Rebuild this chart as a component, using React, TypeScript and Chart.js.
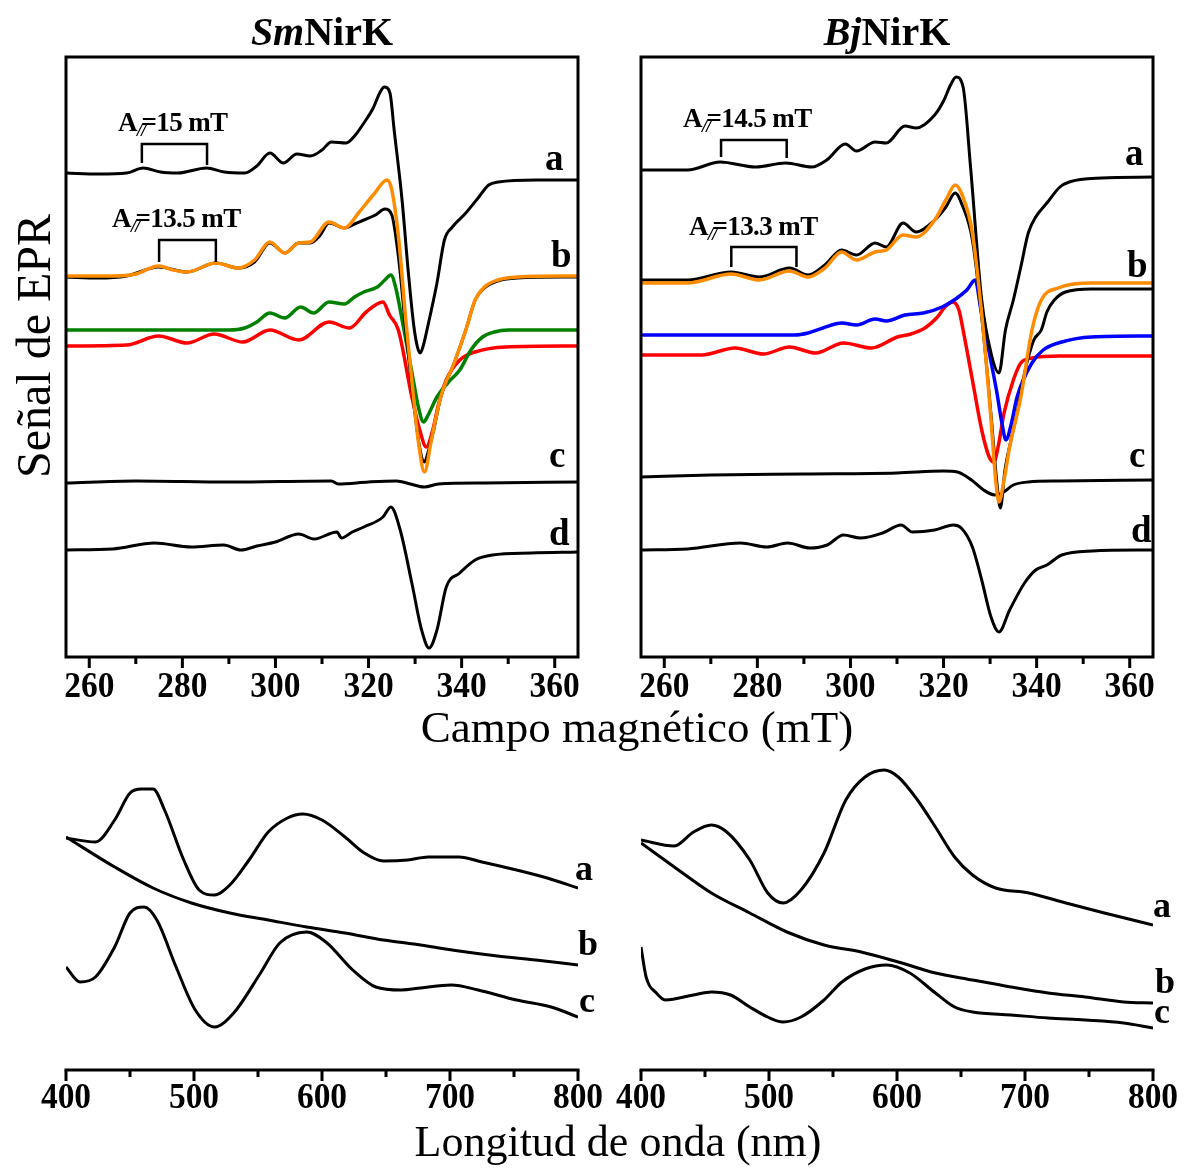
import React, { useEffect, useRef } from "react";
import { Chart, registerables } from "chart.js";

Chart.register(...registerables);

const SERIF = '"Liberation Serif", "Times New Roman", Times, serif';

// ---------- axis ticks ----------
const eprMajorTicks = [260, 280, 300, 320, 340, 360];
const eprMinorTicks = [270, 290, 310, 330, 350];
const uvMajorTicks = [400, 500, 600, 700, 800];
const uvMinorTicks = [450, 550, 650, 750];

// ---------- SmNirK EPR (field in mT, signal in a.u. incl. vertical offset) ----------
const smA_field = [255, 262, 268, 271.6, 275.3, 279, 285.2, 289, 293.4, 296, 298.8, 301.7, 304.6, 307.5, 310, 312, 315.2, 317, 319, 321, 322.5, 323.4, 324.6, 325.5, 327.2, 328.5, 329.7, 330.5, 331.1, 331.8, 332.5, 334.7, 336.3, 338, 340.9, 343.7, 345.8, 347.9, 356, 365];
const smA_signal = [484, 483, 484, 489, 485, 484, 489, 485, 484, 491, 504, 494, 503, 501, 507, 515, 514, 521, 534, 549, 565, 570, 564, 527, 457, 387, 332, 310, 304, 312, 326, 374, 417, 430, 444, 460, 472, 475, 477, 477];

const smB_field = [255, 262, 268, 274.9, 281, 287.2, 292, 295.5, 298.8, 302, 305, 307.5, 309.5, 311.5, 314.8, 317, 319, 321.5, 323.5, 325, 326.5, 328, 329.5, 331, 332, 332.8, 334, 335.5, 338.4, 340.9, 342.9, 344.9, 347.8, 352, 365];
const smB_signal = [380, 379, 381, 390, 385, 394, 389, 395, 414, 404, 414, 414, 421, 434, 429, 433, 437, 442, 448, 442, 397, 327, 262, 209, 195, 205, 227, 260, 294, 327, 357, 369, 376, 379, 380];

const smFit_field = [255, 265, 270, 274.9, 278, 281, 287.2, 292, 295.5, 298.8, 302, 305, 307.5, 311.5, 314.8, 318, 321, 324, 325, 326.5, 328, 329.5, 330.8, 332, 333.5, 335.5, 338.4, 340.9, 342.9, 344.9, 347.8, 352, 365];
const smFit_signal = [381, 381, 383, 391, 387, 385, 394, 389, 397, 415, 404, 414, 415, 435, 429, 445, 462, 477, 467, 417, 337, 267, 212, 185, 217, 260, 294, 327, 357, 370, 377, 380, 381];

const smGreen_field = [255, 290, 293.4, 296, 298.8, 302, 305.4, 308.2, 311.5, 314.8, 317, 319, 321.9, 323.5, 324.8, 325.8, 327.5, 329.3, 330.8, 331.8, 332.8, 334.7, 337, 339.6, 342, 344.5, 347, 350, 365];
const smGreen_signal = [327, 327, 329, 335, 344, 339, 350, 344, 355, 353, 360, 365, 370, 377, 382, 370, 330, 285, 248, 235, 242, 260, 274, 287, 307, 320, 325, 327, 327];

const smRed_field = [255, 268, 274.9, 281, 286.8, 293, 298.8, 305, 311.5, 315.9, 319.5, 323.1, 324.5, 326.4, 329.3, 331, 332.4, 333.8, 335, 336.7, 339.6, 342.9, 349.5, 365];
const smRed_signal = [311, 312, 321, 314, 323, 315, 327, 317, 335, 329, 345, 355, 342, 327, 260, 227, 210, 227, 252, 277, 297, 305, 310, 311];

const smC_field = [255, 270, 290, 312, 313.5, 320, 326, 329, 332, 335, 345, 365];
const smC_signal = [174, 176, 175, 176, 173, 175, 176, 173, 170, 173, 174, 175];

const smD_field = [255, 265, 274, 281.9, 288.9, 292.6, 296, 300, 305, 308.3, 313.2, 314.2, 316.5, 319, 323.1, 324.8, 326.8, 329.3, 331.4, 333, 334.7, 336.7, 339.6, 342.9, 346.6, 355, 365];
const smD_signal = [107, 108, 114, 110, 112, 107, 111, 115, 123, 118, 125, 119, 125, 130, 140, 150, 127, 74, 27, 9, 27, 70, 84, 97, 102, 104, 105];

const smBracketStart = [271.3, 275.0];
const smBracketEnd = [285.3, 287.2];
const smBracketTop = [513, 417];
const smBracketFootL = [494, 395];
const smBracketFootR = [492, 395];

// ---------- BjNirK EPR ----------
const bjA_field = [255, 265, 272, 279.6, 286.1, 291.7, 294.9, 298.9, 301.3, 305.3, 307.7, 311.7, 314.1, 318.1, 320.1, 321.5, 322.7, 324.2, 325.8, 328.2, 330.3, 331.9, 333.3, 335, 336.6, 338.2, 339.8, 342.2, 345, 347, 354, 365];
const bjA_signal = [487, 487, 495, 490, 494, 490, 497, 513, 506, 515, 514, 531, 529, 542, 557, 572, 580, 570, 490, 357, 302, 284, 327, 357, 390, 424, 440, 454, 470, 475, 479, 480];

const bjB_field = [255, 265, 274.4, 280.4, 286.9, 290.9, 294.5, 298.1, 301.3, 305.3, 307.7, 311.3, 314.1, 318.1, 320.5, 322.5, 324, 326.2, 328.6, 330.3, 331.4, 332.2, 333.2, 334.5, 335.8, 337.4, 339.4, 341, 342.2, 343.8, 346.2, 351.8, 365];
const bjB_signal = [377, 377, 385, 380, 389, 382, 392, 407, 402, 414, 410, 434, 425, 437, 450, 464, 452, 417, 322, 237, 177, 149, 187, 217, 244, 284, 317, 327, 345, 357, 365, 368, 368];

const bjFit_field = [255, 265, 274.4, 280.4, 286.9, 290.9, 294.5, 298.1, 301.3, 305.3, 307.7, 311.3, 314.1, 318.1, 320.5, 322.5, 324, 326.2, 328.6, 330.2, 331.2, 331.9, 333, 334.2, 336.6, 339, 341, 344.6, 351.8, 365];
const bjFit_signal = [374, 374, 383, 377, 386, 380, 389, 405, 397, 405, 407, 422, 420, 437, 457, 472, 462, 424, 324, 237, 177, 155, 177, 210, 260, 327, 357, 369, 374, 374];

const bjBlue_field = [255, 288, 290.9, 294.1, 298.1, 301.3, 305.3, 307.7, 311.7, 315.7, 319.7, 322.9, 325, 326.8, 328, 330, 331.4, 332.5, 333.4, 334.5, 335.8, 339, 341.4, 345.4, 351.8, 365];
const bjBlue_signal = [322, 322, 324, 329, 334, 332, 338, 336, 342, 344, 350, 359, 367, 377, 348, 300, 266, 235, 217, 232, 260, 294, 307, 315, 320, 321];

const bjRed_field = [255, 268, 275.2, 281.3, 286.9, 292.5, 298.5, 304.5, 310.1, 313, 316, 318.5, 320.5, 322, 323.3, 324.2, 326.2, 328.2, 329.8, 330.8, 331.8, 333, 335, 336.6, 339, 345, 365];
const bjRed_signal = [302, 302, 309, 303, 310, 304, 314, 309, 320, 323, 329, 339, 351, 355, 347, 327, 277, 227, 200, 195, 212, 244, 277, 294, 299, 301, 301];

const bjC_field = [255, 270, 290, 310, 320, 323, 326, 328.6, 331, 332.6, 335, 338.2, 345, 365];
const bjC_signal = [180, 182, 183, 184, 186, 185, 177, 167, 162, 164, 172, 175, 176, 177];

const bjD_field = [255, 265, 276.4, 282, 286.5, 291.3, 295, 298.5, 302.1, 306.9, 310.9, 313.3, 318.1, 322.1, 323.8, 326.2, 328.2, 330.2, 331.9, 334.2, 337.4, 339.8, 342.2, 345.4, 352, 365];
const bjD_signal = [107, 108, 114, 110, 114, 109, 112, 122, 119, 124, 132, 125, 127, 132, 129, 110, 77, 40, 25, 47, 74, 87, 92, 102, 106, 107];

const bjBracketStart = [272.2, 274.4];
const bjBracketEnd = [286.3, 288.4];
const bjBracketTop = [517, 410];
const bjBracketFootL = [500, 390];
const bjBracketFootR = [499, 390];

// ---------- UV-vis (wavelength in nm, absorbance in a.u. incl. offset) ----------
const smUvA_nm = [400, 423, 438, 450, 459, 468, 477, 492, 504, 516, 528, 543, 558, 573, 585, 600, 618, 633, 648, 667, 683, 707, 725, 752, 776, 800];
const smUvA_abs = [232, 228, 250, 277, 281, 281, 260, 210, 180, 175, 185, 210, 238, 252, 256, 250, 233, 217, 209, 210, 213, 213, 208, 200, 192, 182];
const smUvB_nm = [400, 438, 468, 498, 528, 558, 588, 618, 648, 677, 707, 737, 767, 800];
const smUvB_abs = [233, 203, 182, 167, 157, 150, 143, 137, 130, 125, 119, 114, 110, 105];
const smUvC_nm = [400, 411, 423, 438, 450, 461, 471, 486, 501, 516, 531, 552, 567, 588, 603, 624, 642, 662, 677, 701, 722, 752, 779, 800];
const smUvC_abs = [103, 88, 93, 123, 157, 163, 150, 103, 60, 43, 57, 97, 127, 138, 128, 100, 83, 80, 82, 85, 80, 70, 63, 53];

const bjUvA_nm = [400, 426, 441, 455, 467, 485, 499, 511, 525, 543, 560, 575, 590, 601, 616, 630, 645, 659, 677, 703, 732, 762, 800];
const bjUvA_abs = [230, 224, 238, 245, 238, 210, 177, 167, 180, 217, 270, 293, 300, 293, 270, 243, 213, 195, 182, 177, 167, 157, 145];
const bjUvB_nm = [400, 426, 455, 485, 514, 543, 572, 601, 630, 659, 689, 718, 747, 777, 800];
const bjUvB_abs = [227, 203, 177, 157, 138, 125, 118, 108, 97, 90, 83, 77, 73, 68, 67];
const bjUvC_nm = [400, 404, 412, 419, 441, 455, 470, 485, 499, 511, 525, 543, 557, 575, 592, 610, 630, 645, 659, 689, 718, 747, 777, 800];
const bjUvC_abs = [123, 93, 77, 70, 75, 78, 75, 63, 53, 48, 53, 70, 88, 101, 105, 97, 77, 63, 58, 55, 52, 50, 47, 42];

// ---------- styles ----------
const BLACK = "#000000";
const ORANGE = "#FF8C00";
const GREEN = "#008000";
const RED = "#FF0000";
const BLUE = "#0000FF";

type Series = { x: number[]; y: number[]; color: string; width: number };
type Brackets = { start: number[]; end: number[]; top: number[]; footL: number[]; footR: number[] };

const smSeries: Series[] = [
  { x: smFit_field, y: smFit_signal, color: ORANGE, width: 3.5 },
  { x: smB_field, y: smB_signal, color: BLACK, width: 3 },
  { x: smA_field, y: smA_signal, color: BLACK, width: 3 },
  { x: smGreen_field, y: smGreen_signal, color: GREEN, width: 3.5 },
  { x: smRed_field, y: smRed_signal, color: RED, width: 3.5 },
  { x: smC_field, y: smC_signal, color: BLACK, width: 3 },
  { x: smD_field, y: smD_signal, color: BLACK, width: 3 },
];
const bjSeries: Series[] = [
  { x: bjFit_field, y: bjFit_signal, color: ORANGE, width: 3.5 },
  { x: bjB_field, y: bjB_signal, color: BLACK, width: 3 },
  { x: bjA_field, y: bjA_signal, color: BLACK, width: 3 },
  { x: bjBlue_field, y: bjBlue_signal, color: BLUE, width: 3.5 },
  { x: bjRed_field, y: bjRed_signal, color: RED, width: 3.5 },
  { x: bjC_field, y: bjC_signal, color: BLACK, width: 3 },
  { x: bjD_field, y: bjD_signal, color: BLACK, width: 3 },
];
const smUvSeries: Series[] = [
  { x: smUvA_nm, y: smUvA_abs, color: BLACK, width: 3 },
  { x: smUvB_nm, y: smUvB_abs, color: BLACK, width: 3 },
  { x: smUvC_nm, y: smUvC_abs, color: BLACK, width: 3 },
];
const bjUvSeries: Series[] = [
  { x: bjUvA_nm, y: bjUvA_abs, color: BLACK, width: 3 },
  { x: bjUvB_nm, y: bjUvB_abs, color: BLACK, width: 3 },
  { x: bjUvC_nm, y: bjUvC_abs, color: BLACK, width: 3 },
];

type PanelProps = {
  left: number; top: number; w: number; h: number;
  pad: { left: number; top: number; right: number; bottom: number };
  xMin: number; xMax: number; yMax: number;
  series: Series[];
  major: number[]; minor: number[];
  boxed: boolean;
  labelOffset: number;
  brackets?: Brackets;
};

function Panel(p: PanelProps) {
  const ref = useRef<HTMLCanvasElement>(null);
  useEffect(() => {
    const canvas = ref.current as HTMLCanvasElement;
    const axesPlugin: any = {
      id: "panelAxes",
      afterDatasetsDraw(chart: any) {
        const { ctx, chartArea: a } = chart;
        const xs = chart.scales.x;
        const ys = chart.scales.y;
        ctx.save();
        ctx.strokeStyle = "#000";
        ctx.fillStyle = "#000";
        ctx.lineWidth = 3;
        if (p.boxed) {
          ctx.strokeRect(a.left, a.top, a.right - a.left, a.bottom - a.top);
        } else {
          ctx.beginPath();
          ctx.moveTo(a.left - 1.5, a.bottom);
          ctx.lineTo(a.right + 1.5, a.bottom);
          ctx.stroke();
        }
        ctx.beginPath();
        p.major.forEach((v) => {
          const x = xs.getPixelForValue(v);
          ctx.moveTo(x, a.bottom);
          ctx.lineTo(x, a.bottom + 11);
        });
        p.minor.forEach((v) => {
          const x = xs.getPixelForValue(v);
          ctx.moveTo(x, a.bottom);
          ctx.lineTo(x, a.bottom + 7);
        });
        ctx.stroke();
        if (p.brackets) {
          const b = p.brackets;
          ctx.lineWidth = 2.5;
          ctx.beginPath();
          b.start.forEach((s, i) => {
            const x1 = xs.getPixelForValue(s);
            const x2 = xs.getPixelForValue(b.end[i]);
            ctx.moveTo(x1, ys.getPixelForValue(b.footL[i]));
            ctx.lineTo(x1, ys.getPixelForValue(b.top[i]));
            ctx.lineTo(x2, ys.getPixelForValue(b.top[i]));
            ctx.lineTo(x2, ys.getPixelForValue(b.footR[i]));
          });
          ctx.stroke();
        }
        ctx.font = `bold 36px ${SERIF}`;
        ctx.textAlign = "center";
        ctx.textBaseline = "alphabetic";
        p.major.forEach((v) => {
          const x = xs.getPixelForValue(v);
          ctx.save();
          ctx.translate(x, a.bottom + p.labelOffset);
          ctx.scale(0.93, 1);
          ctx.fillText(String(v), 0, 0);
          ctx.restore();
        });
        ctx.restore();
      },
    };
    const chart = new Chart(canvas, {
      type: "line",
      data: {
        datasets: p.series.map((s) => ({
          data: s.x.map((v, i) => ({ x: v, y: s.y[i] })),
          borderColor: s.color,
          borderWidth: s.width,
          pointRadius: 0,
          fill: false,
          cubicInterpolationMode: "monotone",
        })),
      },
      options: {
        responsive: false,
        animation: false,
        devicePixelRatio: 1,
        events: [],
        layout: { padding: p.pad },
        plugins: { legend: { display: false }, tooltip: { enabled: false } },
        scales: {
          x: { type: "linear", min: p.xMin, max: p.xMax, display: false },
          y: { type: "linear", min: 0, max: p.yMax, display: false },
        },
      } as any,
      plugins: [axesPlugin],
    });
    return () => chart.destroy();
  }, []);
  return (
    <canvas
      ref={ref}
      width={p.w}
      height={p.h}
      style={{ position: "absolute", left: p.left, top: p.top, width: p.w, height: p.h }}
    />
  );
}

function Txt(props: { x: number; base: number; size: number; bold?: boolean; center?: boolean; children: any; spacing?: number }) {
  const { x, base, size, bold, center, children, spacing } = props;
  const style: any = {
    position: "absolute",
    top: base - 0.8375 * size,
    font: `${bold ? "bold " : ""}${size}px ${SERIF}`,
    lineHeight: `${size}px`,
    whiteSpace: "nowrap",
    color: "#000",
    letterSpacing: spacing !== undefined ? `${spacing}px` : "normal",
  };
  if (center) {
    style.left = x - 400;
    style.width = 800;
    style.textAlign = "center";
  } else {
    style.left = x;
  }
  return <div style={style}>{children}</div>;
}

function Apar(props: { x: number; base: number; value: string }) {
  return (
    <Txt x={props.x} base={props.base} size={27} bold spacing={-0.6}>
      A
      <span style={{ fontSize: 19, fontStyle: "italic", position: "relative", top: 5, marginRight: -4, letterSpacing: -1 }}>//</span>
      {"=" + props.value}
    </Txt>
  );
}

export default function App() {
  return (
    <div style={{ position: "absolute", left: 0, top: 0, width: 1184, height: 1169, background: "#fff", overflow: "hidden" }}>
      <Panel left={0} top={0} w={610} h={720} pad={{ left: 66, top: 57, right: 32, bottom: 63 }}
        xMin={255} xMax={365} yMax={600} series={smSeries} major={eprMajorTicks} minor={eprMinorTicks}
        boxed labelOffset={40}
        brackets={{ start: smBracketStart, end: smBracketEnd, top: smBracketTop, footL: smBracketFootL, footR: smBracketFootR }} />
      <Panel left={610} top={0} w={574} h={720} pad={{ left: 31, top: 57, right: 31, bottom: 63 }}
        xMin={255} xMax={365} yMax={600} series={bjSeries} major={eprMajorTicks} minor={eprMinorTicks}
        boxed labelOffset={40}
        brackets={{ start: bjBracketStart, end: bjBracketEnd, top: bjBracketTop, footL: bjBracketFootL, footR: bjBracketFootR }} />
      <Panel left={0} top={740} w={610} h={429} pad={{ left: 66, top: 20, right: 32, bottom: 99 }}
        xMin={400} xMax={800} yMax={310} series={smUvSeries} major={uvMajorTicks} minor={uvMinorTicks}
        boxed={false} labelOffset={38} />
      <Panel left={610} top={740} w={574} h={429} pad={{ left: 31, top: 20, right: 31, bottom: 99 }}
        xMin={400} xMax={800} yMax={310} series={bjUvSeries} major={uvMajorTicks} minor={uvMinorTicks}
        boxed={false} labelOffset={38} />

      {/* panel titles */}
      <Txt x={322} base={45} size={40} bold center><i>Sm</i>NirK</Txt>
      <Txt x={887} base={45} size={40} bold center><i>Bj</i>NirK</Txt>

      {/* axis titles */}
      <Txt x={637} base={743} size={45} center>Campo magnético (mT)</Txt>
      <Txt x={618} base={1157} size={44} center>Longitud de onda (nm)</Txt>
      <div style={{
        position: "absolute", left: 34, top: 346, transform: "translate(-50%, -50%) rotate(-90deg)",
        font: `48px ${SERIF}`, lineHeight: "48px", whiteSpace: "nowrap", color: "#000",
      }}>Señal de EPR</div>

      {/* hyperfine annotations */}
      <Apar x={118} base={132} value="15 mT" />
      <Apar x={112} base={228} value="13.5 mT" />
      <Apar x={683} base={128} value="14.5 mT" />
      <Apar x={689} base={236} value="13.3 mT" />

      {/* trace letters EPR */}
      <Txt x={545} base={170} size={37} bold>a</Txt>
      <Txt x={551} base={267} size={37} bold>b</Txt>
      <Txt x={549} base={467} size={37} bold>c</Txt>
      <Txt x={549} base={545} size={37} bold>d</Txt>
      <Txt x={1125} base={165} size={37} bold>a</Txt>
      <Txt x={1127} base={277} size={37} bold>b</Txt>
      <Txt x={1129} base={467} size={37} bold>c</Txt>
      <Txt x={1131} base={542} size={37} bold>d</Txt>

      {/* trace letters UV-vis */}
      <Txt x={575} base={880} size={36} bold>a</Txt>
      <Txt x={578} base={955} size={36} bold>b</Txt>
      <Txt x={579} base={1012} size={36} bold>c</Txt>
      <Txt x={1153} base={917} size={36} bold>a</Txt>
      <Txt x={1155} base={993} size={36} bold>b</Txt>
      <Txt x={1154} base={1023} size={36} bold>c</Txt>
    </div>
  );
}
